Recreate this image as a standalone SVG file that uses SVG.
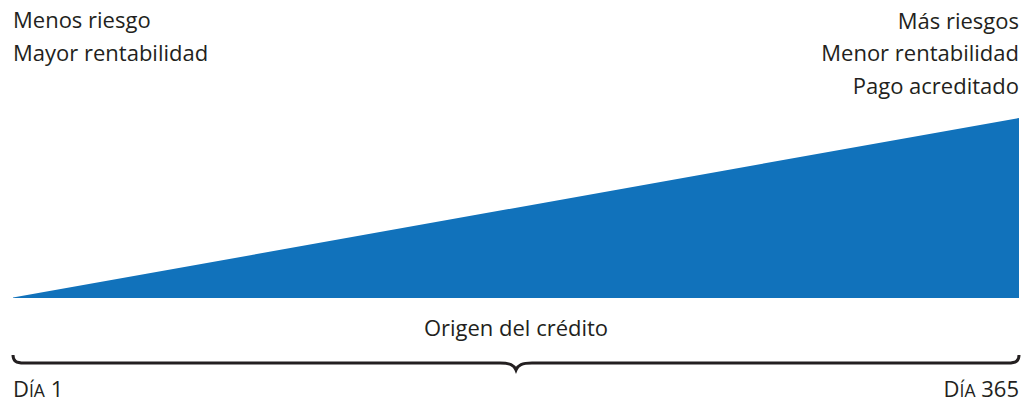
<svg xmlns="http://www.w3.org/2000/svg" width="1021" height="402" viewBox="0 0 1021 402">
<style>
text{font-family:"Open Sans","Noto Sans",sans-serif;font-size:22px;fill:#231f20}
.sc{font-size:17.5px}
</style>
<rect width="1021" height="402" fill="#fff"/>
<g id="wedge"><polygon points="13,297.5 1019,118 1019,298 13,298" fill="#1172bb"/></g>
<g id="left-label"><text x="13" y="28">Menos riesgo</text><text x="13" y="61">Mayor rentabilidad</text></g>
<g id="right-label" text-anchor="end"><text x="1019" y="29">Más riesgos</text><text x="1019" y="61">Menor rentabilidad</text><text x="1019" y="94">Pago acreditado</text></g>
<g id="brace-label"><text x="516" y="336" text-anchor="middle">Origen del crédito</text></g>
<g id="connectors"><path d="M13,355 C13,361 16,363 24,363 L500,363 C510,363 514,365 516,370 C518,365 522,363 532,363 L1008,363 C1016,363 1019,361 1019,355" fill="none" stroke="#231f20" stroke-width="3"/></g>
<g id="day1"><text x="13" y="397">D<tspan class="sc">ÍA</tspan> 1</text></g>
<g id="day365"><text x="1019" y="397" text-anchor="end">D<tspan class="sc">ÍA</tspan> 365</text></g>
</svg>
